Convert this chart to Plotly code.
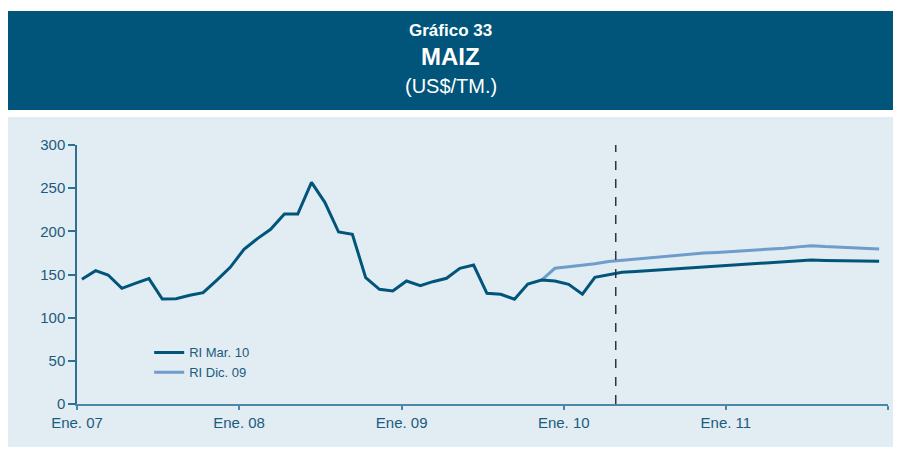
import pandas as pd
import plotly.graph_objects as go

# monthly prices, Ene.07 - Dic.11 (US$/TM)
ri_mar10 = [144.4, 154.4, 149.4, 134.0, 139.8, 145.2, 121.6, 122.0, 125.9, 128.9, 143.6, 158.3,
            179.2, 191.9, 202.3, 220.1, 220.1, 256.8, 233.6, 199.2, 196.6, 146.3, 132.8, 130.9,
            142.5, 137.1, 141.7, 145.6, 157.2, 161.0, 128.2, 127.1, 121.3, 139.0, 143.6, 142.5,
            138.6, 127.2, 146.7, 149.5, 152.5, 153.5, 154.5, 155.5, 156.5, 157.2, 158.2, 159.0,
            160.0, 161.0, 162.0, 163.0, 164.0, 165.5, 166.8, 166.3, 166.0, 165.6, 165.4, 165.3]
# RI Dic.09 starts at Nov.09 (index 34)
ri_dic09 = [143.6, 157.2, 159.0, 160.5, 162.5, 165.0, 166.5, 168.0, 169.5, 171.0, 172.5, 173.8,
            174.8, 175.6, 176.5, 177.5, 178.5, 179.5, 180.5, 182.0, 183.4, 182.3, 181.5, 180.6,
            180.0, 179.5]

months = pd.date_range("2007-01-01", periods=60, freq="MS") + pd.Timedelta(days=11)
tick_dates = pd.date_range("2007-01-01", periods=6, freq="YS")
tick_labels = ["Ene. 07", "Ene. 08", "Ene. 09", "Ene. 10", "Ene. 11", ""]
corte = "2010-04-28"

navy = "#02557A"
light = "#6E9CCB"
panel = "#E1ECF3"
txt = "#1B5B7E"

fig = go.Figure()
fig.add_trace(go.Scatter(x=months, y=ri_mar10, mode="lines", name="RI Mar. 10",
                         line=dict(color=navy, width=3)))
fig.add_trace(go.Scatter(x=months[34:], y=ri_dic09, mode="lines", name="RI Dic. 09",
                         line=dict(color=light, width=3)))
# put the darker line on top
fig.data = (fig.data[1], fig.data[0])

fig.add_shape(type="line", xref="x", yref="y", x0=corte, x1=corte, y0=0, y1=300,
              line=dict(color="#333333", width=1.5, dash="dash"))

# header band and panel background
fig.add_shape(type="rect", xref="paper", yref="paper", x0=-0.0863, x1=1.06, y0=1.1351, y1=1.5174,
              fillcolor="#01547A", line_width=0, layer="below")
fig.add_shape(type="rect", xref="paper", yref="paper", x0=-0.0863, x1=1.06, y0=-0.166, y1=1.1081,
              fillcolor=panel, line_width=0, layer="below")

fig.add_annotation(text="<b>Gráfico 33</b>", xref="paper", yref="paper", x=0.461, y=1.4405,
                   yanchor="middle", showarrow=False, font=dict(size=17, color="white"))
fig.add_annotation(text="<b>MAIZ</b>", xref="paper", yref="paper", x=0.461, y=1.3398,
                   yanchor="middle", showarrow=False, font=dict(size=24, color="white"))
fig.add_annotation(text="(US$/TM.)", xref="paper", yref="paper", x=0.461, y=1.228,
                   yanchor="middle", showarrow=False, font=dict(size=20, color="white"))

# page body has an 8px offset, margins compensate for it
fig.update_layout(
    width=901, height=450,
    margin=dict(l=69, r=21, t=137, b=54),
    paper_bgcolor="white", plot_bgcolor=panel,
    font=dict(family="Liberation Sans, Arial", size=15, color=txt),
    showlegend=True,
    legend=dict(x=0.089, y=0.257, xanchor="left", yanchor="top", bgcolor="rgba(0,0,0,0)",
                font=dict(size=13, color=txt), traceorder="reversed", tracegroupgap=0),
)
fig.update_xaxes(range=["2007-01-01", "2012-01-01"], tickvals=tick_dates, ticktext=tick_labels,
                 showgrid=False, zeroline=False, showline=True, linecolor="#4A88A8", linewidth=2,
                 ticks="outside", ticklen=4, tickcolor="#4A88A8", tickwidth=1.5)
fig.update_yaxes(range=[0, 300], dtick=50, showgrid=False, zeroline=False, showline=True,
                 linecolor="#2F6F90", linewidth=1.5, ticks="outside", ticklen=7,
                 tickcolor="#2F6F90", tickwidth=1.5)

fig.write_html("out.html")
